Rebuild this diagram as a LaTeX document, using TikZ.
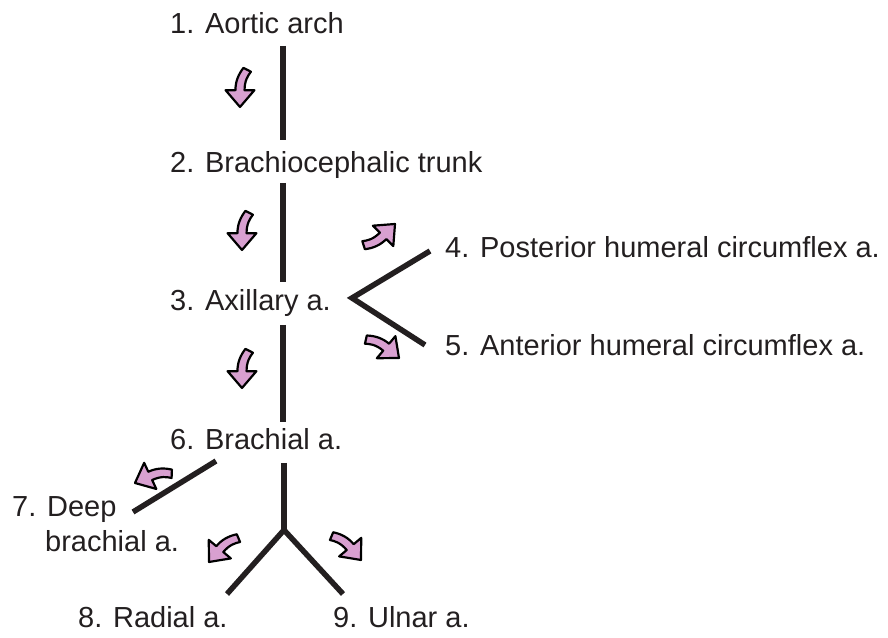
\documentclass[tikz,border=0pt]{standalone}
\usepackage{fontspec}
\setmainfont{Liberation Sans}
\usepackage{xcolor}
\definecolor{arrowpink}{RGB}{216,160,208}
\definecolor{inkblack}{RGB}{35,31,32}
\usetikzlibrary{positioning}

\tikzset{
  flowarrow/.pic={
    \draw[fill=arrowpink, draw=black, line width=2.2pt, line join=round]
      (0,0) -- (-14,12) -- (-14,3.8)
      .. controls (-22,3.8) and (-26,6.5) .. (-29.4,9.1)
      -- (-32.6,2.9)
      .. controls (-27,-1.5) and (-21,-3.8) .. (-14,-3.8)
      -- (-14,-12) -- cycle;
  }
}

\begin{document}
\begin{tikzpicture}[x=1bp, y=1bp,
    artery/.style={anchor=base west, inner sep=0pt, text=inkblack,
      font=\fontsize{29bp}{35bp}\selectfont},
    vessel/.style={draw=inkblack, line width=5.5bp},
    bigarrow/.style={scale=1.2}]
  \useasboundingbox (0,0) rectangle (888,638);

  % --- Labels ---
  \node[artery] (aorta)    at (170,604) {1. Aortic arch};
  \node[artery] (brachio)  at (170,465) {2. Brachiocephalic trunk};
  \node[artery] (axillary) at (170,327) {3. Axillary a.};
  \node[artery] (posthum)  at (445,380) {4. Posterior humeral circumflex a.};
  \node[artery] (anthum)   at (445,282) {5. Anterior humeral circumflex a.};
  \node[artery] (brachial) at (170,188) {6. Brachial a.};
  \node[artery] (deep)     at (12,121)  {7. Deep};
  \node[artery] (deepb)    at (45,86)   {brachial a.};
  \node[artery] (radial)   at (78,10)   {8. Radial a.};
  \node[artery] (ulnar)    at (333,10)  {9. Ulnar a.};

  % --- Vessel ends ---
  \coordinate (v1a) at (283,592);
  \coordinate (v1b) at (283,498);
  \coordinate (v2a) at (283,455);
  \coordinate (v2b) at (283,356);
  \coordinate (v3a) at (283,313);
  \coordinate (v3b) at (283,216);
  \coordinate (axv) at (352,340);
  \coordinate (phe) at (430,387);
  \coordinate (ahe) at (425,293);
  \coordinate (dba) at (216,177);
  \coordinate (dbb) at (133,126);
  \coordinate (bra) at (284,175);
  \coordinate (fork) at (284,108);
  \coordinate (rae) at (227,44);
  \coordinate (uhe) at (343,44);

  % --- Vessels ---
  \draw[vessel] (v1a) -- (v1b);
  \draw[vessel] (v2a) -- (v2b);
  \draw[vessel] (v3a) -- (v3b);
  \draw[vessel] (phe) -- (axv) -- (ahe);
  \draw[vessel] (dba) -- (dbb);
  \draw[vessel] (bra) -- (fork);
  \draw[vessel] (rae) -- (fork) -- (uhe);

  % --- Flow arrows ---
  \pic[bigarrow, rotate=-90] at (240,531) {flowarrow};
  \pic[bigarrow, rotate=-90] at (242,388) {flowarrow};
  \pic[bigarrow, rotate=-90] at (242,250) {flowarrow};
  \pic[bigarrow, rotate=45] at (395,414) {flowarrow};
  \pic[bigarrow, rotate=-40, yscale=-1] at (399,280) {flowarrow};
  \pic[bigarrow, rotate=205] at (135,155) {flowarrow};
  \pic[bigarrow, rotate=230] at (209,76) {flowarrow};
  \pic[bigarrow, rotate=-50, yscale=-1] at (361,78) {flowarrow};
\end{tikzpicture}
\end{document}
